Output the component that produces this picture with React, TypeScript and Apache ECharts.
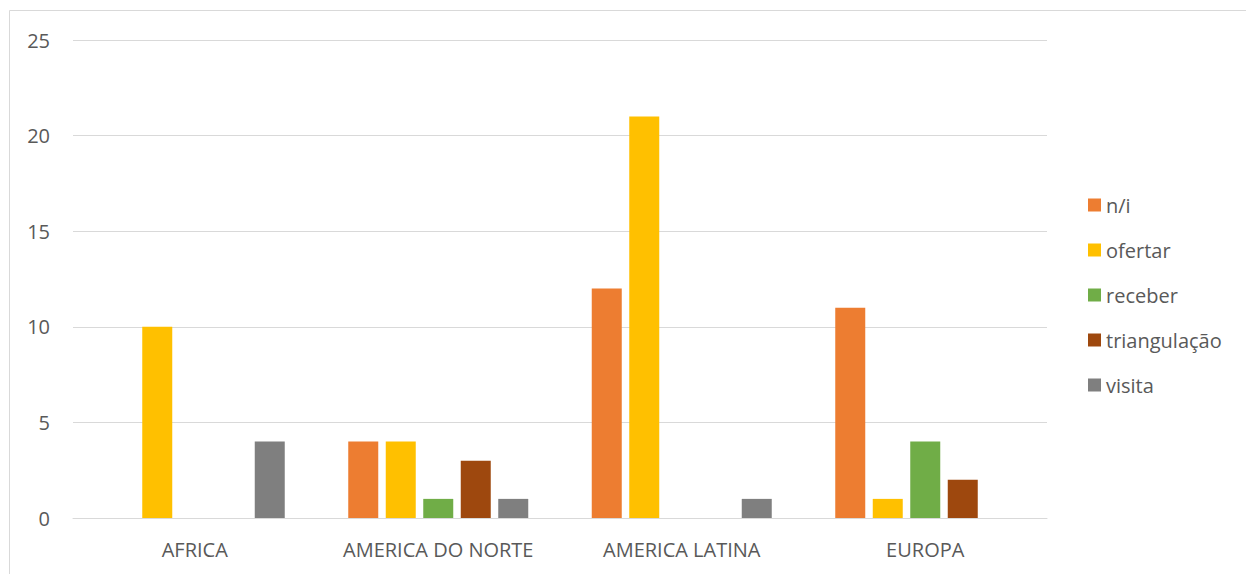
import React, { useEffect, useRef } from "react";
import * as echarts from "echarts";

const categories = ["AFRICA", "AMERICA DO NORTE", "AMERICA LATINA", "EUROPA"];
const seriesNames = ["n/i", "ofertar", "receber", "triangulação", "visita"];
const niValues = [null, 4, 12, 11];
const ofertarValues = [10, 4, 21, 1];
const receberValues = [null, 1, null, 4];
const triangulacaoValues = [null, 3, null, 2];
const visitaValues = [4, 1, 1, null];
const colors = ["#ED7D31", "#FFC000", "#70AD47", "#9E480E", "#7F7F7F"];
const yTicks = [0, 5, 10, 15, 20, 25];

export default function App() {
  const ref = useRef<HTMLDivElement>(null);
  useEffect(() => {
    if (!ref.current) return;
    const chart = echarts.init(ref.current, undefined, { renderer: "svg" });
    const values = [niValues, ofertarValues, receberValues, triangulacaoValues, visitaValues];
    const font = "'Open Sans', 'Noto Sans', sans-serif";
    chart.setOption({
      animation: false,
      backgroundColor: "#ffffff",
      graphic: [
        {
          type: "rect",
          shape: { x: 9.5, y: 10.5, width: 1400, height: 700 },
          style: { fill: "none", stroke: "#d9d9d9", lineWidth: 1 },
          silent: true,
        },
      ],
      grid: { left: 73, right: 199, top: 40, bottom: 56, containLabel: false },
      legend: {
        orient: "vertical",
        left: 1083,
        top: 190,
        icon: "rect",
        itemWidth: 13,
        itemHeight: 13,
        itemGap: 25,
        data: seriesNames,
        textStyle: { fontSize: 20, color: "#595959", fontFamily: font },
      },
      xAxis: {
        type: "category",
        data: categories,
        axisLine: { lineStyle: { color: "#d9d9d9", width: 1 } },
        axisTick: { show: false },
        axisLabel: { color: "#595959", fontSize: 20, fontFamily: font, margin: 21, interval: 0 },
      },
      yAxis: {
        type: "value",
        min: yTicks[0],
        max: yTicks[yTicks.length - 1],
        interval: 5,
        axisLine: { show: false },
        axisTick: { show: false },
        splitLine: { lineStyle: { color: "#d9d9d9", width: 1 } },
        axisLabel: { color: "#595959", fontSize: 20, fontFamily: font, margin: 23 },
      },
      series: seriesNames.map((name, i) => ({
        name,
        type: "bar",
        data: values[i],
        barWidth: 30,
        barGap: "25%",
        itemStyle: { color: colors[i] },
      })),
    });
    return () => chart.dispose();
  }, []);
  return (
    <div
      ref={ref}
      style={{ position: "absolute", left: 0, top: 0, width: 1246, height: 574 }}
    />
  );
}
